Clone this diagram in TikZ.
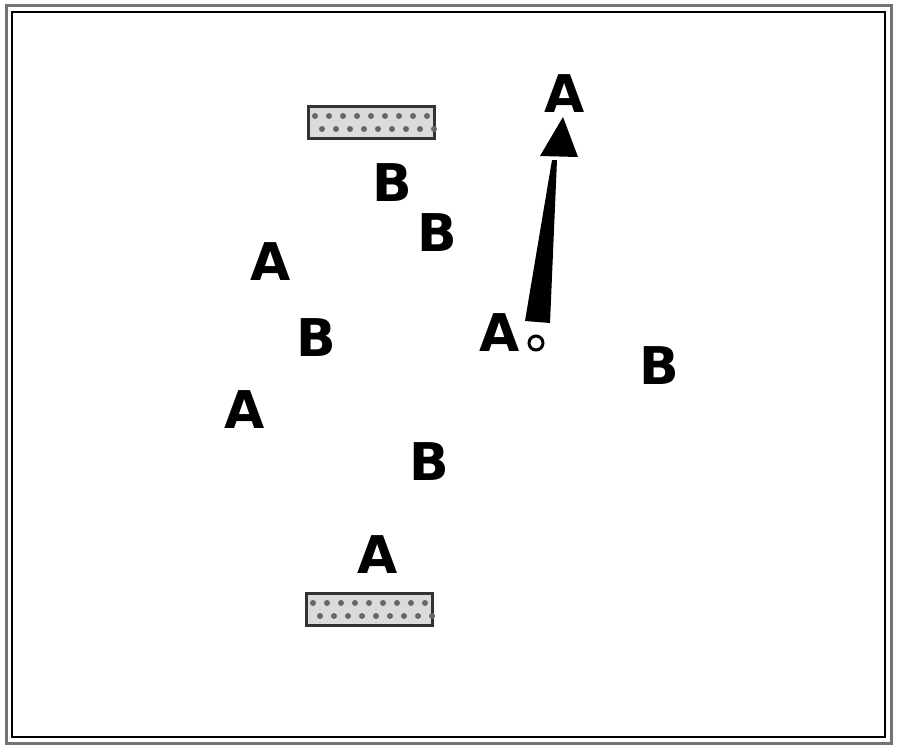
\documentclass[tikz,border=0pt]{standalone}
\usepackage{fontspec}
\setmainfont{DejaVu Sans}
\begin{document}
\begin{tikzpicture}[x=1pt,y=-1pt,
		letter/.style={font=\fontsize{52}{52}\selectfont\bfseries,inner sep=0pt},
		bar/.style={fill=gray!28,draw=black!80,line width=3pt}]
		\useasboundingbox (0,0) rectangle (900,752);
		% frame
			\draw [line width=3pt,black!55] (6,6) rectangle (891,743);
			\draw [line width=1.2pt] (12,12) rectangle (885,737);
		% dotted bars
			\def\barw{126}
			\def\barh{32}
			\foreach \bx/\by [count=\i] in {308/106,306/593} {
				\draw [bar] (\bx,\by) rectangle ++(\barw,\barh);
				\foreach \dx in {0,...,8} {
					\fill [black!60] (\bx+7+\dx*14,\by+10) circle (3);
					\fill [black!60] (\bx+14+\dx*14,\by+23) circle (3);
				}
			}
		% letters
			\node [letter] (a1) at (565,94) {A};
			\node [letter] (b1) at (392,183) {B};
			\node [letter] (b2) at (437,233) {B};
			\node [letter] (a2) at (271,262) {A};
			\node [letter] (b3) at (316,338) {B};
			\node [letter] (a3) at (500,333) {A};
			\node [letter] (b4) at (659,366) {B};
			\node [letter] (a4) at (245,410) {A};
			\node [letter] (b5) at (429,462) {B};
			\node [letter] (a5) at (378,555) {A};
		% observer
			\node [circle,draw,line width=3pt,fill=white,inner sep=0pt,minimum size=14pt] (o) at (536,343) {};
		% arrow
			\coordinate (tail) at (537,321);
			\coordinate (tip) at (563,117);
			\fill (tail) ++(-12,0) -- ++(25,2) -- (557,160) -- (552,160) -- cycle;
			\fill (tip) -- (578,157) -- (540,156) -- cycle;
	\end{tikzpicture}
\end{document}
